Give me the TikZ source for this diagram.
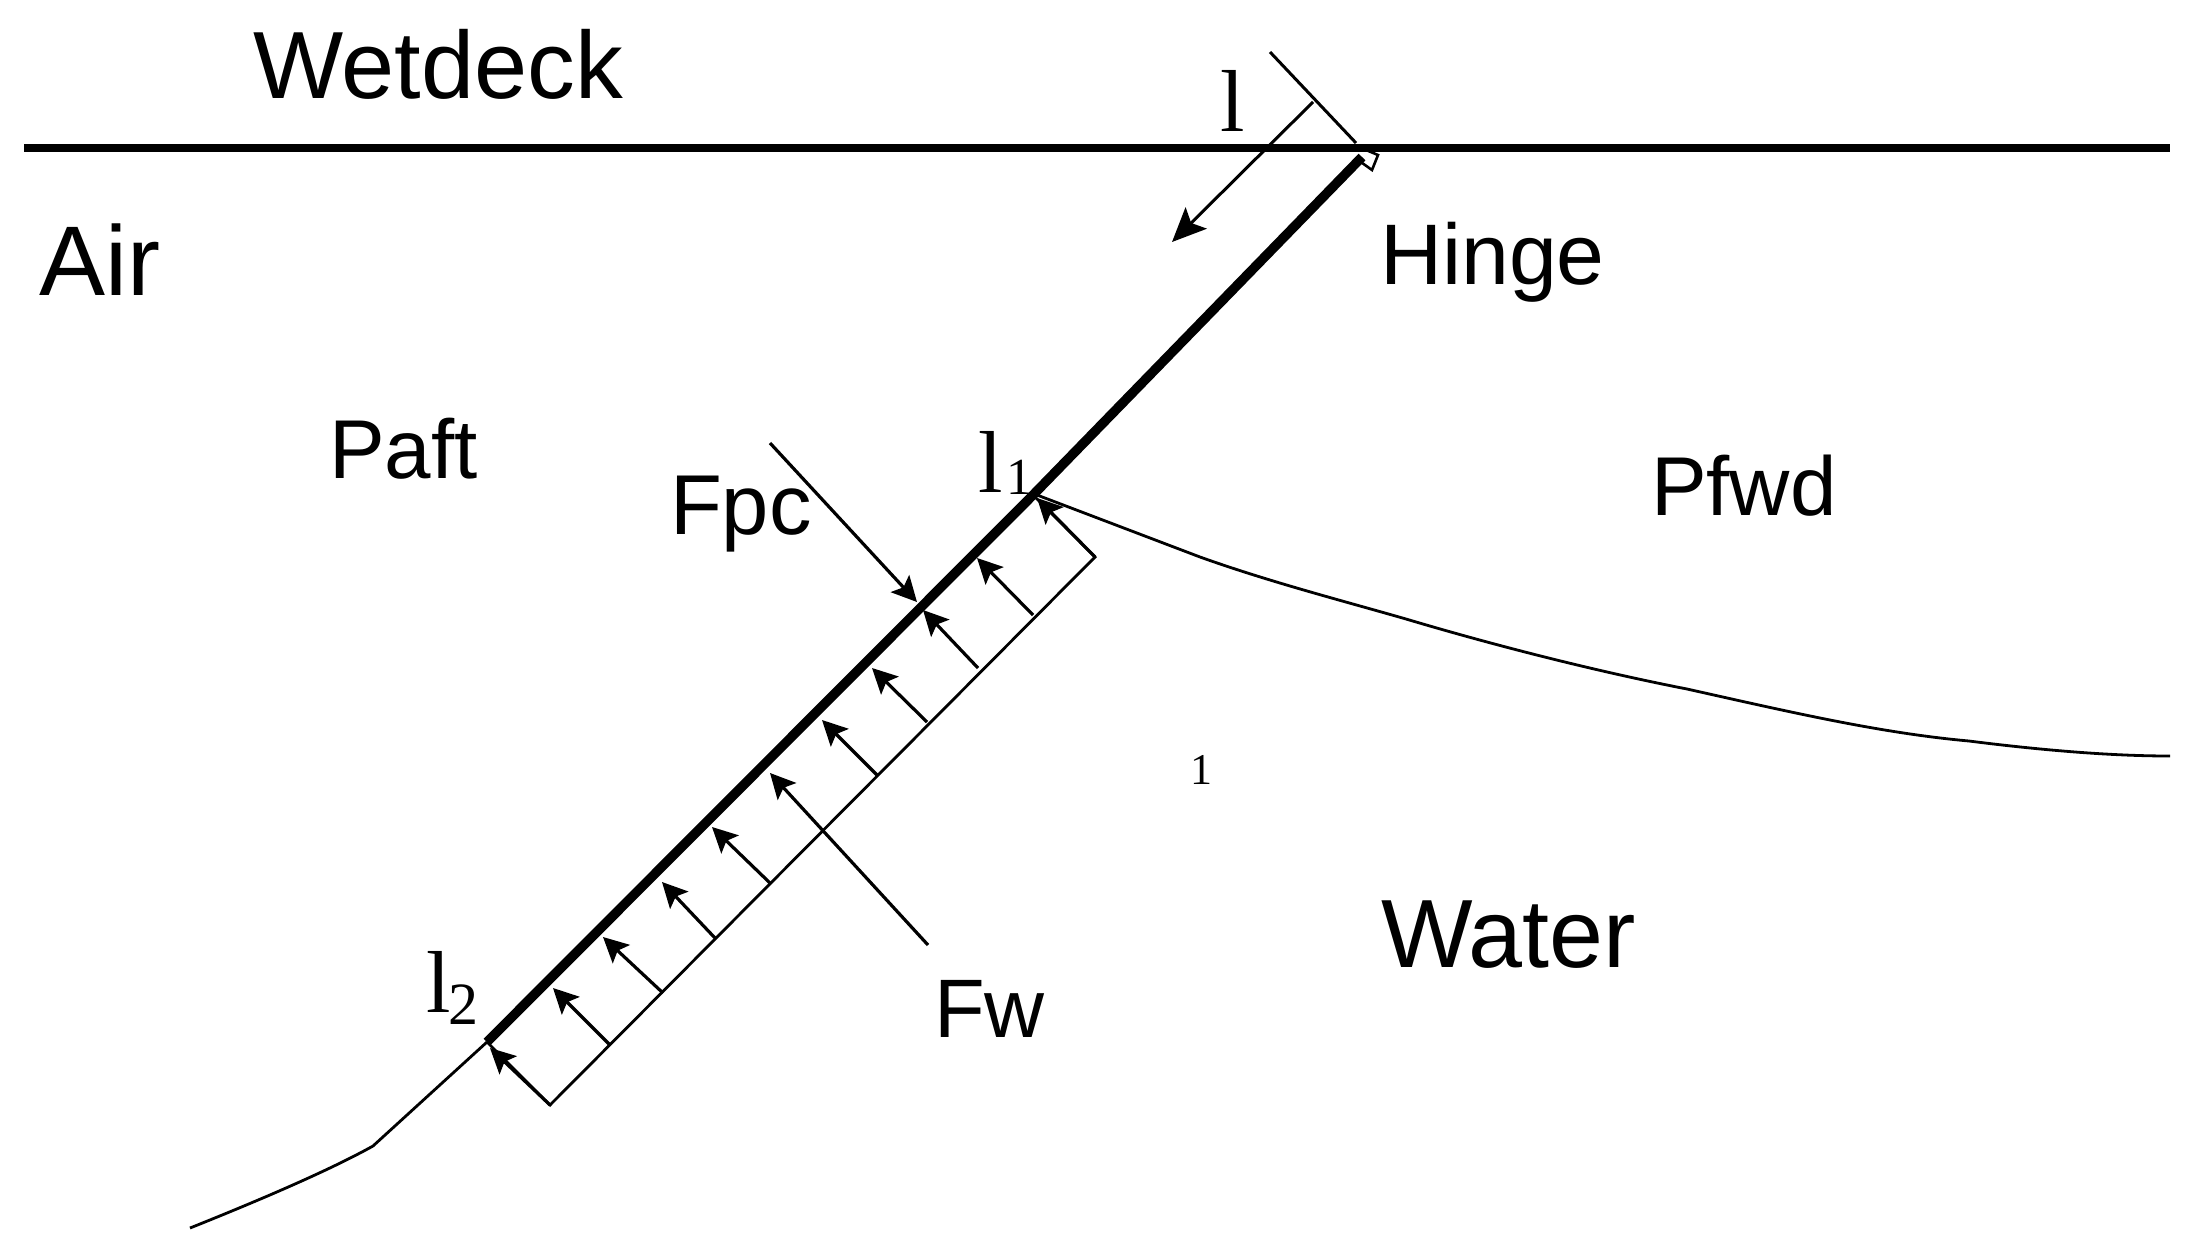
\documentclass[tikz,border=0pt]{standalone}
\usepackage{fontspec}
\setmainfont{Liberation Sans}
\newfontfamily\serifl{Liberation Serif}
\usetikzlibrary{arrows.meta}
\tikzset{
  lab/.style={anchor=base west,inner sep=0pt,outer sep=0pt,text=black},
  thinl/.style={line width=3pt,black},
  thinner/.style={line width=2.8pt,black},
  deck/.style={line width=7.5pt,black},
  plate/.style={line width=9.5pt,black},
  surf/.style={line width=2.8pt,black,line join=round},
  press/.style={line width=3.2pt,black,-{Stealth[length=25pt,width=25pt,inset=5pt]}},
}
\newcommand{\szlab}[1]{\fontsize{#1pt}{#1pt}\selectfont}
\begin{document}
\begin{tikzpicture}[x=1pt,y=-1pt]
\useasboundingbox (0,0) rectangle (2205,1259);
% main lines
\coordinate (deckL) at (24,148);
\coordinate (deckR) at (2170,148);
\draw[deck] (deckL) -- (deckR);
\coordinate (hinge) at (1362,157);
\coordinate (lone) at (1033,495);
\coordinate (ltwo) at (487,1042);
\draw[plate] (hinge) -- (lone) -- (ltwo);
% hinge detail
\coordinate (hA) at (1366,150);
\coordinate (hB) at (1378,155);
\coordinate (hC) at (1372,170);
\coordinate (hD) at (1358,160);
\draw[line width=2.6pt] (hA) -- (hB) -- (hC) -- (hD);
% dimension l
\coordinate (dimS) at (1270,52);
\coordinate (dimE) at (1356,143);
\draw[thinl] (dimS) -- (dimE);
\coordinate (dimM) at (1313,102);
\coordinate (dimT) at (1172,242);
\draw[line width=3pt,-{Stealth[length=34pt,width=30pt,inset=7pt]}] (dimM) -- (dimT);
% water surface
\coordinate (s0) at (1037,495);
\coordinate (s1) at (1200,557);
\coordinate (s2) at (1406,619);
\coordinate (s3) at (1687,689);
\coordinate (s4) at (1969,741);
\coordinate (s5) at (2170,756);
\draw[surf] (s0) -- (s1) .. controls (1270,582) and (1340,600) .. (s2) .. controls (1500,647) and (1600,672) .. (s3) .. controls (1790,712) and (1880,733) .. (s4) .. controls (2040,750) and (2110,756) .. (s5);
\coordinate (w1) at (373,1146);
\coordinate (w2) at (190,1228);
\draw[surf] (ltwo) -- (w1) .. controls (330,1170) and (260,1200) .. (w2);
% pressure block
\coordinate (bTop) at (1095,557);
\coordinate (bBot) at (550,1105);
\draw[thinner,line join=miter] (lone) -- (bTop) -- (bBot) -- (ltwo);
% arrows
\coordinate (a1) at (1095,557);  \coordinate (t1) at (1037,498);
\coordinate (a2) at (1033,615);  \coordinate (t2) at (977,558);
\coordinate (a3) at (978,668);   \coordinate (t3) at (923,610);
\coordinate (a4) at (927,722);   \coordinate (t4) at (872,668);
\coordinate (a5) at (877,775);   \coordinate (t5) at (822,720);
\coordinate (a6) at (928,945);   \coordinate (t6) at (770,773);
\coordinate (a7) at (770,883);   \coordinate (t7) at (712,827);
\coordinate (a8) at (715,938);   \coordinate (t8) at (662,882);
\coordinate (a9) at (663,993);   \coordinate (t9) at (603,937);
\coordinate (a10) at (610,1045); \coordinate (t10) at (553,988);
\coordinate (a11) at (550,1105); \coordinate (t11) at (490,1048);
\foreach \i in {1,...,11} \draw[press] (a\i) -- (t\i);
% Fpc arrow
\coordinate (fpcS) at (770,443);
\coordinate (fpcT) at (917,602);
\draw[press] (fpcS) -- (fpcT);
% labels
\node[lab] (wetdeck) at (253,98) {\szlab{95.5}Wetdeck};
\node[lab] (air) at (39,295) {\szlab{99}Air};
\node[lab] (hingeL) at (1380,284) {\szlab{86}Hinge};
\node[lab] (paft) at (329,478) {\szlab{83.5}Paft};
\node[lab] (fpc) at (670,534) {\szlab{85}Fpc};
\node[lab] (pfwd) at (1651,515) {\szlab{83.5}Pfwd};
\node[lab] (water) at (1381,967) {\szlab{97}Water};
\node[lab] (fw) at (934,1037) {\szlab{83}Fw};
\node[lab] (ldim) at (1220,131) {\serifl\szlab{88}l};
\node[lab] (lonel) at (978,492) {\serifl\szlab{88}l};
\node[lab] (lonesub) at (1006,494) {\serifl\szlab{52}1};
\node[lab] (ltwol) at (426,1012) {\serifl\szlab{88}l};
\node[lab] (ltwosub) at (448,1024) {\serifl\szlab{60}2};
\node[lab] (stray) at (1190,784) {\serifl\szlab{44}1};
\end{tikzpicture}
\end{document}
